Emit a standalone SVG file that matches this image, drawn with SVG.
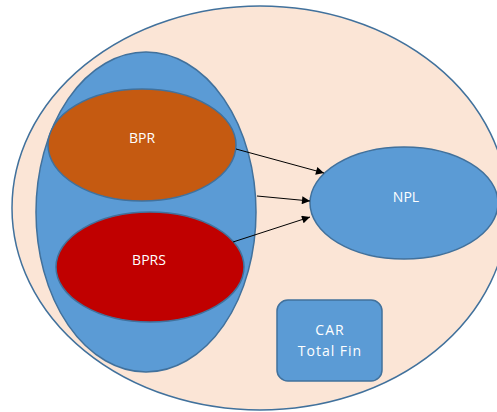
<svg xmlns="http://www.w3.org/2000/svg" width="497" height="412" viewBox="0 0 497 412">
<style>
.sh{stroke:#41719C;stroke-width:1.5}
.t{font-family:"Open Sans","Liberation Sans",sans-serif;font-size:14px;fill:#ffffff;text-anchor:middle}
.b{letter-spacing:1px}
.c{stroke:#000;stroke-width:1;fill:none;marker-end:url(#ah)}
</style>
<defs>
<marker id="ah" viewBox="0 0 10 10" refX="10" refY="5" markerWidth="10" markerHeight="8" markerUnits="userSpaceOnUse" orient="auto">
<path d="M0,0 L10,5 L0,10 z" fill="#000"/>
</marker>
</defs>
<rect width="497" height="412" fill="#fff"/>
<g id="outer"><ellipse class="sh" cx="260" cy="208" rx="248" ry="202" fill="#FBE5D6"/></g>
<g id="group"><ellipse class="sh" cx="146" cy="212" rx="110" ry="160" fill="#5B9BD5"/></g>
<g id="bpr"><ellipse class="sh" cx="142" cy="145" rx="94" ry="56" fill="#C55A11"/><text class="t" x="142" y="143">BPR</text></g>
<g id="bprs"><ellipse class="sh" cx="150" cy="267" rx="94" ry="55" fill="#C00000"/><text class="t" x="149" y="265">BPRS</text></g>
<g id="npl"><ellipse class="sh" cx="404" cy="203" rx="94" ry="56" fill="#5B9BD5"/><text class="t" x="406" y="202">NPL</text></g>
<g id="car"><rect class="sh" x="277" y="300" width="105" height="81" rx="11" fill="#5B9BD5"/><text class="t b" x="330" y="335">CAR</text><text class="t b" x="330" y="356">Total Fin</text></g>
<g id="connectors">
<line class="c" x1="236" y1="149" x2="324" y2="173"/>
<line class="c" x1="257" y1="196" x2="310" y2="201"/>
<line class="c" x1="233" y1="242" x2="310" y2="217"/>
</g>
</svg>
